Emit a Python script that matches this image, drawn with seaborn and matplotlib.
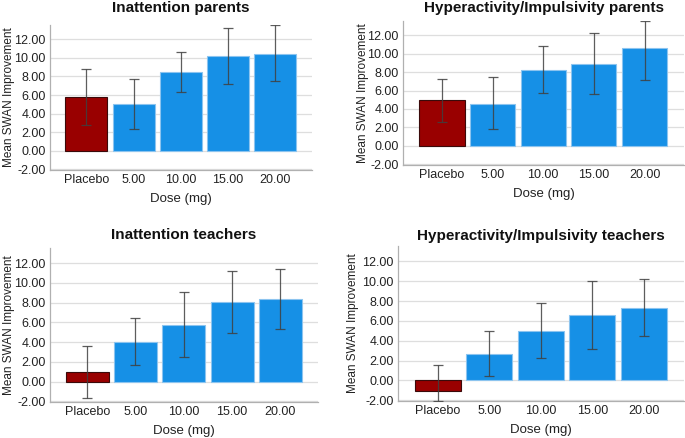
import matplotlib
matplotlib.use("Agg")
import matplotlib.pyplot as plt
import numpy as np
import seaborn as sns

DOSES = ["Placebo", "5.00", "10.00", "15.00", "20.00"]

TITLES = [
    "Inattention parents",
    "Hyperactivity/Impulsivity parents",
    "Inattention teachers",
    "Hyperactivity/Impulsivity teachers",
]

# mean improvement per dose, and lower / upper error bar ends
inatt_par_mean = [5.77, 5.05, 8.47, 10.20, 10.45]
inatt_par_lo = [2.77, 2.38, 6.38, 7.20, 7.46]
inatt_par_hi = [8.83, 7.75, 10.63, 13.26, 13.55]

hyper_par_mean = [4.93, 4.57, 8.27, 8.88, 10.62]
hyper_par_lo = [2.57, 1.78, 5.73, 5.58, 7.18]
hyper_par_hi = [7.25, 7.43, 10.84, 12.22, 13.60]

inatt_tea_mean = [0.94, 4.04, 5.73, 8.02, 8.36]
inatt_tea_lo = [-1.65, 1.72, 2.53, 4.89, 5.29]
inatt_tea_hi = [3.57, 6.44, 9.10, 11.19, 11.46]

hyper_tea_mean = [-1.07, 2.65, 4.96, 6.57, 7.31]
hyper_tea_lo = [-2.05, 0.40, 2.25, 3.12, 4.46]
hyper_tea_hi = [1.51, 4.93, 7.78, 10.06, 10.19]

YTICKS = [-2, 0, 2, 4, 6, 8, 10, 12]

PANELS = [
    (inatt_par_mean, inatt_par_lo, inatt_par_hi),
    (hyper_par_mean, hyper_par_lo, hyper_par_hi),
    (inatt_tea_mean, inatt_tea_lo, inatt_tea_hi),
    (hyper_tea_mean, hyper_tea_lo, hyper_tea_hi),
]

W, H = 685, 438
# axes boxes in pixels: left, top, right, bottom
BOXES = [
    (50, 25, 312, 170),
    (403, 21, 684, 165),
    (50, 248, 318, 402),
    (398, 246, 684, 401),
]
TITLE_Y = [8, 8, 235, 236]
YLABEL_X = [9, 363, 9, 353]

RED = "#990000"
BLUE = "#1690e6"

sns.set_theme(style="white")
plt.rcParams["font.family"] = ["Liberation Sans", "DejaVu Sans"]

fig = plt.figure(figsize=(W / 100, H / 100), dpi=100)

for i, (mean, lo, hi) in enumerate(PANELS):
    l, t, r, b = BOXES[i]
    ax = fig.add_axes([l / W, 1 - b / H, (r - l) / W, (b - t) / H])
    mean = np.asarray(mean)
    lo = np.asarray(lo)
    hi = np.asarray(hi)

    ax.set_axisbelow(True)
    ax.grid(axis="y", color="#dedede", linewidth=0.9)
    sns.barplot(
        x=DOSES, y=mean, hue=DOSES,
        palette=[RED, BLUE, BLUE, BLUE, BLUE], saturation=1,
        legend=False, width=0.89, ax=ax, errorbar=None,
        linewidth=0.8,
    )
    for j, patch in enumerate(ax.patches):
        patch.set_edgecolor("#3a0a0a" if j == 0 else "#8cc4ef")

    ax.errorbar(
        np.arange(len(DOSES)), mean, yerr=[mean - lo, hi - mean],
        fmt="none", ecolor="#404040", elinewidth=0.9, capsize=3.6,
        capthick=0.9, alpha=0.85, zorder=5,
    )

    ax.set_xlim(-0.77, 4.78)
    ax.set_ylim(-2.08, 13.55)
    ax.set_yticks(YTICKS)
    ax.set_yticklabels([f"{v:.2f}" for v in YTICKS])
    ax.tick_params(axis="both", labelsize=9, length=0, pad=3, colors="#222222")
    ax.set_xlabel("Dose (mg)", fontsize=9.5, labelpad=5, color="#222222")
    ax.set_ylabel("Mean SWAN Improvement", fontsize=8.5, color="#222222",
                  va="center")
    ax.yaxis.set_label_coords((YLABEL_X[i] - l) / (r - l), 0.5)

    for side in ["top", "right"]:
        ax.spines[side].set_visible(False)
    for side in ["left", "bottom"]:
        ax.spines[side].set_color("#b0b0b0")
        ax.spines[side].set_linewidth(0.9)

    cx = (l + r) / 2 / W
    fig.text(cx, 1 - TITLE_Y[i] / H, TITLES[i], ha="center", va="center",
             fontsize=11, fontweight="bold", color="#111111")

fig.savefig("out.png", dpi=100, facecolor="white")
